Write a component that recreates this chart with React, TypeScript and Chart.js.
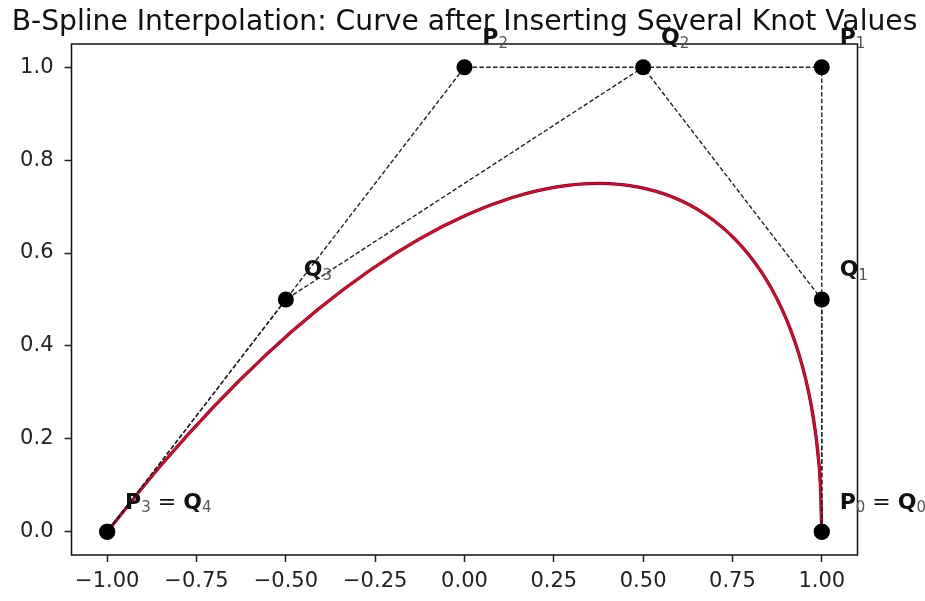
import { useEffect, useRef } from 'react';
import { Chart, registerables } from 'chart.js';

Chart.register(...registerables);

const TITLE = 'B-Spline Interpolation: Curve after Inserting Several Knot Values';

// Original control polygon P0..P3
const P_X = [1, 1, 0, -1];
const P_Y = [0, 1, 1, 0];
// Control polygon after knot insertion Q0..Q4
const Q_X = [1, 1, 0.5, -0.5, -1];
const Q_Y = [0, 0.5, 1, 0.5, 0];

// Curve samples
const CURVE_X = [1, 0.9926, 0.971, 0.9359, 0.888, 0.8281, 0.757, 0.6754, 0.584, 0.4836, 0.375,
  0.2589, 0.136, 0.0071, -0.127, -0.2656, -0.408, -0.5534, -0.701, -0.8501, -1];
const CURVE_Y = [0, 0.1425, 0.27, 0.3825, 0.48, 0.5625, 0.63, 0.6825, 0.72, 0.7425, 0.75,
  0.7425, 0.72, 0.6825, 0.63, 0.5625, 0.48, 0.3825, 0.27, 0.1425, 0];

const X_TICKS = [-1, -0.75, -0.5, -0.25, 0, 0.25, 0.5, 0.75, 1];
const Y_TICKS = [0, 0.2, 0.4, 0.6, 0.8, 1];

// Point annotations
const LABEL_AT_X = [1, 1, 0, -1, 1, 0.5, -0.5];
const LABEL_AT_Y = [0, 1, 1, 0, 0.5, 1, 0.5];
const LABEL_NAMES = [['P0', 'Q0'], ['P1'], ['P2'], ['P3', 'Q4'], ['Q1'], ['Q2'], ['Q3']];

const FONT = '"DejaVu Sans", sans-serif';

const fmtX = (v: number) => {
  const s = Math.abs(v).toFixed(2);
  return v < -1e-9 ? '\u2212' + s : s;
};
const fmtY = (v: number) => {
  const s = Math.abs(v).toFixed(1);
  return v < -1e-9 ? '\u2212' + s : s;
};

const pts = (xs: number[], ys: number[]) => xs.map((x, i) => ({ x, y: ys[i] }));

const framePlugin = {
  id: 'frame',
  afterDatasetsDraw(chart: any) {
    const { ctx, chartArea: a } = chart;
    ctx.save();
    ctx.strokeStyle = '#111';
    ctx.lineWidth = 1.5;
    ctx.strokeRect(a.left, a.top, a.right - a.left, a.bottom - a.top);
    ctx.restore();
  },
};

const titlePlugin = {
  id: 'axTitle',
  afterDraw(chart: any) {
    const { ctx, chartArea: a } = chart;
    ctx.save();
    ctx.font = `28.2px ${FONT}`;
    ctx.fillStyle = '#111';
    ctx.textAlign = 'center';
    ctx.textBaseline = 'alphabetic';
    ctx.fillText(TITLE, (a.left + a.right) / 2, a.top - 14);
    ctx.restore();
  },
};

const labelPlugin = {
  id: 'ptLabels',
  afterDraw(chart: any) {
    const { ctx } = chart;
    const xs = chart.scales.x;
    const ys = chart.scales.y;
    ctx.save();
    ctx.textBaseline = 'alphabetic';
    ctx.textAlign = 'left';
    LABEL_NAMES.forEach((names, i) => {
      let px = xs.getPixelForValue(LABEL_AT_X[i] + 0.05);
      const py = ys.getPixelForValue(LABEL_AT_Y[i] + 0.05);
      names.forEach((n, j) => {
        if (j > 0) {
          ctx.font = `22px ${FONT}`;
          ctx.fillStyle = '#111';
          const eq = ' = ';
          ctx.fillText(eq, px, py);
          px += ctx.measureText(eq).width;
        }
        ctx.font = `bold 22px ${FONT}`;
        ctx.fillStyle = '#111';
        ctx.fillText(n[0], px, py);
        px += ctx.measureText(n[0]).width;
        ctx.font = `15px ${FONT}`;
        ctx.fillStyle = '#555';
        ctx.fillText(n.slice(1), px, py + 3.5);
        px += ctx.measureText(n.slice(1)).width;
      });
    });
    ctx.restore();
  },
};

export default function App() {
  const ref = useRef<HTMLCanvasElement | null>(null);

  useEffect(() => {
    if (!ref.current) return;
    const dash = [4.5, 2.3];
    const chart = new Chart(ref.current, {
      type: 'scatter',
      data: {
        datasets: [
          {
            label: 'P points',
            data: pts(P_X, P_Y),
            showLine: false,
            pointRadius: 8,
            pointBackgroundColor: '#000',
            pointBorderWidth: 0,
          },
          {
            label: 'Q points',
            data: pts(Q_X, Q_Y),
            showLine: false,
            pointRadius: 8,
            pointBackgroundColor: '#000',
            pointBorderWidth: 0,
          },
          {
            label: 'P polygon',
            data: pts(P_X, P_Y),
            showLine: true,
            pointRadius: 0,
            borderColor: '#222',
            borderWidth: 1.4,
            borderDash: dash,
          },
          {
            label: 'Q polygon',
            data: pts(Q_X, Q_Y),
            showLine: true,
            pointRadius: 0,
            borderColor: '#222',
            borderWidth: 1.4,
            borderDash: dash,
          },
          {
            label: 'curve (new)',
            data: pts(CURVE_X, CURVE_Y),
            showLine: true,
            pointRadius: 0,
            borderColor: '#f00018',
            borderWidth: 2.4,
            tension: 0.4,
          },
          {
            label: 'curve (original)',
            data: pts(CURVE_X, CURVE_Y),
            showLine: true,
            pointRadius: 0,
            borderColor: '#1a1a5a',
            borderWidth: 3.2,
            tension: 0.4,
          },
        ],
      },
      options: {
        animation: false,
        responsive: true,
        maintainAspectRatio: false,
        layout: { padding: { left: 0, right: 67.5, top: 44, bottom: 0 } },
        plugins: {
          legend: { display: false },
          tooltip: { enabled: false },
          title: { display: false },
        },
        scales: {
          x: {
            type: 'linear',
            min: -1.1,
            max: 1.1,
            afterBuildTicks: (s: any) => {
              s.ticks = X_TICKS.map((v) => ({ value: v }));
            },
            afterFit: (s: any) => {
              s.height = 46;
            },
            ticks: {
              callback: (v: any) => fmtX(Number(v)),
              color: '#222',
              font: { family: FONT, size: 21 },
              padding: 7,
              maxRotation: 0,
              autoSkip: false,
            },
            grid: {
              display: true,
              drawOnChartArea: false,
              drawTicks: true,
              tickLength: 7,
              tickWidth: 1.5,
              tickColor: '#222',
            },
            border: { display: false },
          },
          y: {
            type: 'linear',
            min: -0.05,
            max: 1.05,
            afterBuildTicks: (s: any) => {
              s.ticks = Y_TICKS.map((v) => ({ value: v }));
            },
            afterFit: (s: any) => {
              s.width = 71.5;
            },
            ticks: {
              callback: (v: any) => fmtY(Number(v)),
              color: '#222',
              font: { family: FONT, size: 21 },
              padding: 11,
              autoSkip: false,
            },
            grid: {
              display: true,
              drawOnChartArea: false,
              drawTicks: true,
              tickLength: 7,
              tickWidth: 1.5,
              tickColor: '#222',
            },
            border: { display: false },
          },
        },
      },
      plugins: [framePlugin, titlePlugin, labelPlugin],
    });
    return () => chart.destroy();
  }, []);

  return (
    <div style={{ position: 'fixed', left: 0, top: 0, width: 925, height: 601, background: '#fff' }}>
      <canvas ref={ref} />
    </div>
  );
}
